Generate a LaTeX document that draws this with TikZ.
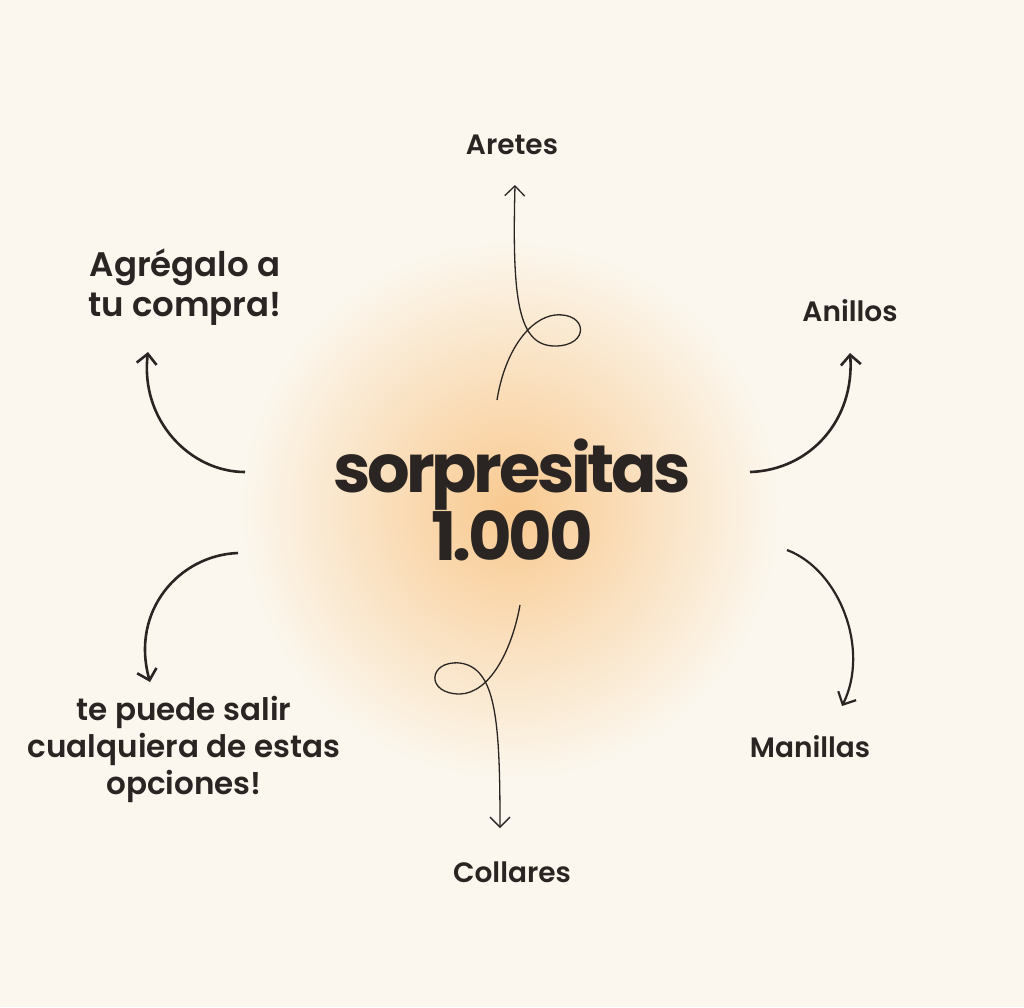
\documentclass[tikz,border=0pt]{standalone}
\usepackage{fontspec}
\setmainfont{Poppins}[UprightFont=* SemiBold,BoldFont=* Bold]
\usetikzlibrary{arrows.meta}
\definecolor{bg}{HTML}{FBF7EE}
\definecolor{ink}{HTML}{2A2522}
\definecolor{glow}{HTML}{F9C98F}
\begin{document}
\begin{tikzpicture}[x=1pt,y=-1pt,
  lbl/.style={text=ink,align=center,font=\fontsize{28}{34}\selectfont},
  big/.style={text=ink,align=center,font=\fontsize{34}{40}\selectfont},
  arr/.style={draw=ink,line width=1.3pt,-{Straight Barb[length=10pt,width=20pt]}},
  thick arr/.style={arr,line width=2.6pt}]
\fill[bg] (0,0) rectangle (1024,1007);
\useasboundingbox (0,0) rectangle (1024,1007);
\shade[inner color=glow,outer color=bg] (510,510) circle (270pt);
\node[text=ink,align=center,font=\addfontfeatures{LetterSpace=-5}\bfseries\fontsize{67}{66}\selectfont] (c) at (512,500) {sorpresitas\\1.000};
\node[lbl] (ar) at (512,145) {Aretes};
\node[lbl] (an) at (850,311) {Anillos};
\node[lbl] (ma) at (810,747) {Manillas};
\node[lbl] (co) at (512,872) {Collares};
\node[big] (ag) at (185,287) {Agrégalo a\\tu compra!};
\node[lbl,font=\fontsize{31}{37}\selectfont] (te) at (184,749) {te puede salir\\cualquiera de estas\\opciones!};
\coordinate (a0) at (497,400); \coordinate (a1) at (515,185);
\draw[arr] (a0) .. controls (505,350) and (530,318) .. (555,315) .. controls (588,312) and (590,346) .. (555,346) .. controls (518,346) and (512,300) .. (a1);
\coordinate (c0) at (520,605); \coordinate (c1) at (500,828);
\draw[arr] (c0) .. controls (512,650) and (490,693) .. (460,694) .. controls (425,694) and (428,660) .. (460,663) .. controls (496,668) and (500,720) .. (c1);
\coordinate (n0) at (750,472); \coordinate (n1) at (850,353);
\draw[thick arr] (n0) .. controls (810,470) and (855,420) .. (n1);
\coordinate (m0) at (787,550); \coordinate (m1) at (842,706);
\draw[thick arr,line width=2.2pt] (m0) .. controls (840,570) and (870,650) .. (m1);
\coordinate (g0) at (245,472); \coordinate (g1) at (148,352);
\draw[thick arr] (g0) .. controls (190,472) and (140,420) .. (g1);
\coordinate (t0) at (238,553); \coordinate (t1) at (150,682);
\draw[thick arr] (t0) .. controls (180,555) and (130,610) .. (t1);
\end{tikzpicture}
\end{document}
